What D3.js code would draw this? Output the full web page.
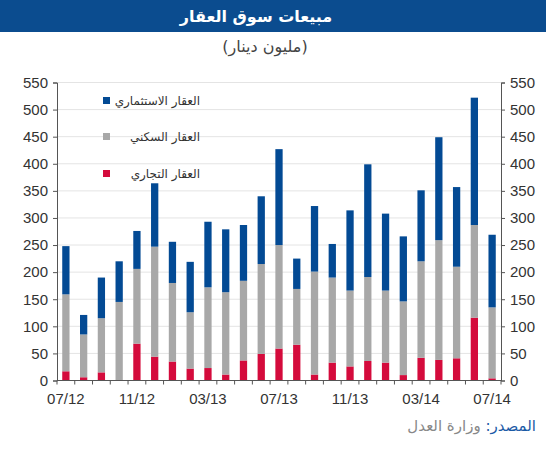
<!DOCTYPE html>
<html><head><meta charset="utf-8">
<script src="https://cdn.jsdelivr.net/npm/d3@7"></script>
<style>
html,body{margin:0;padding:0;background:#fff;}
svg{display:block;font-family:"Liberation Sans",Arial,sans-serif;}
</style></head>
<body>
<svg id="c" width="546" height="450"></svg>
<script>
const months = ["07/12","08/12","09/12","10/12","11/12","12/12","01/13","02/13","03/13","04/13","05/13","06/13","07/13","08/13","09/13","10/13","11/13","12/13","01/14","02/14","03/14","04/14","05/14","06/14","07/14"];
const commercial = [17,6,15,0,68,44,35,22,23,11,37,49,59,66,11,33,26,36,33,10,42,38,41,116,4];
const residential = [142,79,100,145,138,203,145,104,149,152,147,166,191,103,190,157,140,155,133,136,178,221,169,171,131];
const investment = [89,36,75,75,70,117,76,93,121,116,103,125,177,56,121,62,148,208,142,120,131,190,147,235,134];
const tickLabels = ["07/12","11/12","03/13","07/13","11/13","03/14","07/14"];
const yTicks = [0,50,100,150,200,250,300,350,400,450,500,550];
const seriesNames = ["العقار الاستثماري","العقار السكني","العقار التجاري"];
const colors = {commercial:"#d40b3c", residential:"#a8a8a8", investment:"#034a94"};

const svg = d3.select("#c");
const L = 57, R = 501, T = 82.5, B = 380.5;

// title band
svg.append("rect").attr("x",0).attr("y",0).attr("width",546).attr("height",32).attr("fill","#0b4c8f");
svg.append("text").attr("x",256).attr("y",22).attr("text-anchor","middle")
  .attr("fill","#fff").attr("font-size",16).attr("font-weight","bold")
  .attr("font-family","'DejaVu Sans',sans-serif").attr("direction","rtl").text("مبيعات سوق العقار");
svg.append("text").attr("x",265).attr("y",52).attr("text-anchor","middle")
  .attr("fill","#444").attr("font-size",16).attr("font-family","'DejaVu Sans',sans-serif")
  .attr("direction","rtl").text("(مليون دينار)");

const x = d3.scaleBand().domain(months).range([L,R]).paddingInner(0.59).paddingOuter(0.295);
const y = d3.scaleLinear().domain([0,550]).range([B,T]);

// grid
svg.append("g").selectAll("line").data(yTicks.filter(d=>d>0)).join("line")
  .attr("x1",L).attr("x2",R).attr("y1",d=>y(d)).attr("y2",d=>y(d))
  .attr("stroke","#e4e4e4").attr("stroke-width",1);

// stacked data
const rows = months.map((m,i)=>({m, commercial:commercial[i], residential:residential[i], investment:investment[i]}));
const stack = d3.stack().keys(["commercial","residential","investment"])(rows);
svg.append("g").selectAll("g").data(stack).join("g").attr("fill",d=>colors[d.key])
  .selectAll("rect").data(d=>d).join("rect")
  .attr("x",d=>x(d.data.m)).attr("width",x.bandwidth())
  .attr("y",d=>y(d[1])).attr("height",d=>y(d[0])-y(d[1]));

// axes
const axisColor = "#555";
const yl = svg.append("g").attr("transform",`translate(${L},0)`)
  .call(d3.axisLeft(y).tickValues(yTicks).tickSize(4).tickPadding(5));
const yr = svg.append("g").attr("transform",`translate(${R},0)`)
  .call(d3.axisRight(y).tickValues(yTicks).tickSize(4).tickPadding(5));
[yl,yr].forEach(g=>{
  g.attr("font-family","'Liberation Sans',Arial,sans-serif");
  g.select(".domain").attr("stroke",axisColor);
  g.selectAll(".tick line").attr("stroke",axisColor);
  g.selectAll("text").attr("font-size",15).attr("fill","#333");
});

// x axis: ticks at band boundaries, labels every 4 months
const xg = svg.append("g").attr("transform",`translate(0,${B})`);
xg.append("line").attr("x1",L).attr("x2",R).attr("stroke",axisColor);
const bounds = d3.range(months.length+1).map(i=>L + i*(R-L)/months.length);
xg.selectAll("line.t").data(bounds).join("line").attr("class","t")
  .attr("x1",d=>d).attr("x2",d=>d).attr("y1",0).attr("y2",4).attr("stroke",axisColor);
xg.selectAll("text").data(tickLabels).join("text")
  .attr("x",d=>x(d)+x.bandwidth()/2).attr("y",23).attr("text-anchor","middle")
  .attr("font-size",15).attr("fill","#333").text(d=>d);

// legend
const legItems = [
  {name:seriesNames[0], color:colors.investment, y:101},
  {name:seriesNames[1], color:colors.residential, y:137},
  {name:seriesNames[2], color:colors.commercial, y:174}
];
const lg = svg.append("g");
legItems.forEach(it=>{
  lg.append("rect").attr("x",103).attr("y",it.y-4).attr("width",7).attr("height",7).attr("fill",it.color);
  lg.append("text").attr("x",200).attr("y",it.y+4).attr("text-anchor","start")
    .attr("direction","rtl").attr("font-size",12).attr("fill","#333")
    .attr("font-family","'DejaVu Sans',sans-serif").text(it.name);
});

// source
const src = svg.append("text").attr("x",536).attr("y",431).attr("text-anchor","start")
  .attr("direction","rtl").attr("font-size",15).attr("font-family","'DejaVu Sans',sans-serif");
src.append("tspan").attr("fill","#1b5aa6").text("المصدر: ");
src.append("tspan").attr("fill","#888").text("وزارة العدل");
</script>
</body></html>
